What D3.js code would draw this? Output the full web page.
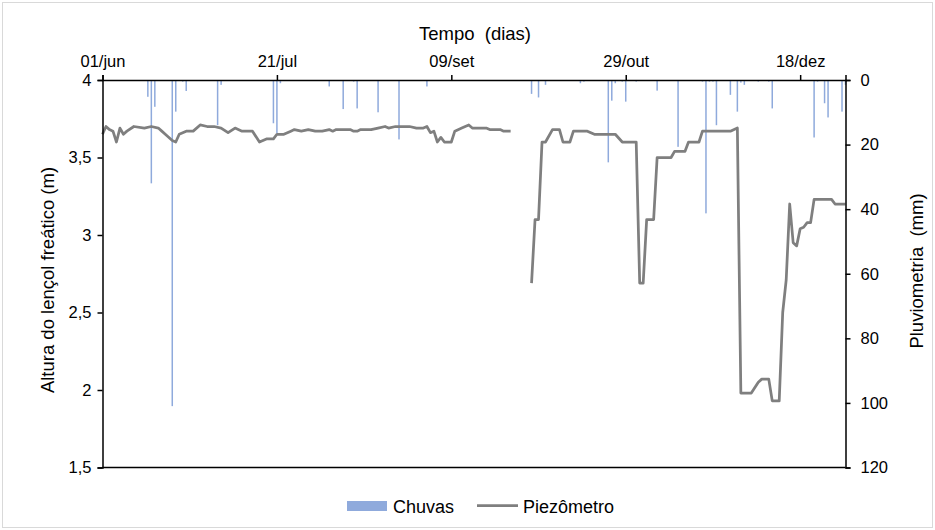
<!DOCTYPE html>
<html>
<head>
<meta charset="utf-8">
<script src="https://cdn.jsdelivr.net/npm/d3@7"></script>
<style>
  body { margin: 0; background: #fff; }
  svg text { font-family: "Liberation Sans", Arial, sans-serif; fill: #000; }
</style>
</head>
<body>
<div id="chart"></div>
<script>
// days counted from 01/jun
const rainDays = [13, 14, 15, 20, 21, 23, 24, 33, 34, 49, 50, 51, 65, 69, 72, 73, 79, 85, 93,
    123, 125, 127, 137, 138, 145, 146, 147, 149, 150, 153, 159, 165, 172, 173, 174, 175, 176,
    180, 182, 183, 184, 188, 191, 192, 204, 205, 207, 208, 212, 213];
const rainMm = [5.2, 32, 8.3, 101, 9.8, 0.5, 3.4, 14, 1.5, 13.4, 16.5, 1, 2, 9, 0.5, 8.8, 10, 18.4, 2,
    4.3, 5.4, 1.5, 1, 0.5, 25.5, 6.4, 1, 0.5, 6.7, 0.5, 3.3, 20.7, 0.5, 41.3, 0.5, 0.5, 14,
    4.6, 9.8, 0.8, 1.5, 0.5, 0.5, 8.8, 17.8, 0.5, 7.2, 11.6, 9.8, 1.5];

const piezoDays = [0, 1, 2, 3, 4, 5, 6, 7, 9, 12, 14, 16, 17, 18, 20, 21, 22, 24, 26, 28, 30, 32, 34, 36,
    38, 40, 43, 45, 47, 49, 50, 52, 54, 55, 57, 59, 61, 63, 65, 66, 67, 71, 72, 73, 74, 77, 79, 81,
    82, 84, 88, 90, 92, 93, 94, 95, 96, 97, 98, 100, 101, 103, 104, 105, 106, 110, 111, 114, 115, 117,
    120,
    123, 124, 125, 126, 127, 129, 131, 132, 134, 135, 139, 141, 147, 149, 153, 154, 155, 156, 158,
    159, 163, 164, 167, 168, 171, 172, 180, 182, 183, 186, 188, 189, 191, 192, 194, 195, 196, 197,
    198, 199, 200, 201, 202, 203, 204, 209, 210, 213];
const piezoLevel = [3.65, 3.70, 3.68, 3.67, 3.60, 3.69, 3.65, 3.67, 3.70, 3.69, 3.70, 3.69, 3.67, 3.65,
    3.61, 3.60, 3.65, 3.67, 3.67, 3.71, 3.70, 3.70, 3.69, 3.66, 3.69, 3.67, 3.67, 3.60, 3.62, 3.62,
    3.65, 3.65, 3.67, 3.68, 3.67, 3.68, 3.67, 3.67, 3.68, 3.67, 3.68, 3.68, 3.67, 3.67, 3.68, 3.68,
    3.69, 3.70, 3.69, 3.70, 3.70, 3.69, 3.69, 3.70, 3.66, 3.67, 3.60, 3.63, 3.60, 3.60, 3.67, 3.69,
    3.70, 3.71, 3.69, 3.69, 3.68, 3.68, 3.67, 3.67,
    null,
    2.69, 3.10, 3.10, 3.60, 3.60, 3.68, 3.68, 3.60, 3.60, 3.67, 3.67, 3.65, 3.65, 3.60, 3.60, 2.69,
    2.69, 3.10, 3.10, 3.50, 3.50, 3.54, 3.54, 3.60, 3.60, 3.67, 3.67, 3.69, 1.98, 1.98, 2.05, 2.07,
    2.07, 1.93, 1.93, 2.50, 2.71, 3.20, 2.95, 2.93, 3.04, 3.05, 3.08, 3.08, 3.23, 3.23, 3.20, 3.20];

const tickDays = [0, 50, 100, 150, 200];
const levelTicks = [1.5, 2, 2.5, 3, 3.5, 4];
const rainTicks = [0, 20, 40, 60, 80, 100, 120];

const width = 935, height = 530;
const margin = { top: 80, right: 89.5, bottom: 62.5, left: 102.5 };

const ptBR = d3.timeFormatLocale({
    dateTime: "%d/%m/%Y %H:%M", date: "%d/%m/%Y", time: "%H:%M:%S",
    periods: ["AM", "PM"],
    days: ["domingo", "segunda", "terça", "quarta", "quinta", "sexta", "sábado"],
    shortDays: ["dom", "seg", "ter", "qua", "qui", "sex", "sáb"],
    months: ["janeiro", "fevereiro", "março", "abril", "maio", "junho", "julho", "agosto", "setembro", "outubro", "novembro", "dezembro"],
    shortMonths: ["jan", "fev", "mar", "abr", "mai", "jun", "jul", "ago", "set", "out", "nov", "dez"]
});
const fmtDate = ptBR.format("%d/%b");
const fmtNum = v => String(v).replace(".", ",");

const start = new Date(2019, 5, 1);
const day = d => d3.timeDay.offset(start, d);

const svg = d3.select("#chart").append("svg")
    .attr("width", width)
    .attr("height", height);

svg.append("rect")
    .attr("x", 2.5).attr("y", 2.5)
    .attr("width", width - 5).attr("height", height - 5)
    .attr("fill", "#fff")
    .attr("stroke", "#d9d9d9");

const x = d3.scaleTime()
    .domain([start, day(213)])
    .range([margin.left, width - margin.right]);
const yLeft = d3.scaleLinear()
    .domain([1.5, 4])
    .range([height - margin.bottom, margin.top]);
const yRight = d3.scaleLinear()
    .domain([0, 120])
    .range([margin.top, height - margin.bottom]);

// rain bars hanging from the top
svg.append("g")
    .selectAll("rect")
    .data(rainDays.map((d, i) => ({ date: day(d), mm: rainMm[i] })))
    .enter()
    .append("rect")
    .attr("x", d => x(d.date) - 0.75)
    .attr("y", yRight(0))
    .attr("width", 1.5)
    .attr("height", d => yRight(d.mm) - yRight(0))
    .attr("fill", "#8faadc");

// piezometer line
const piezo = piezoDays.map((d, i) => ({ date: day(d), v: piezoLevel[i] }));
const line = d3.line()
    .defined(d => d.v != null)
    .x(d => x(d.date))
    .y(d => yLeft(d.v));
svg.append("path")
    .datum(piezo)
    .attr("d", line)
    .attr("fill", "none")
    .attr("stroke", "#7f7f7f")
    .attr("stroke-width", 2.75)
    .attr("stroke-linejoin", "round");

// axes
const styleAxis = g => {
    g.selectAll(".domain").attr("stroke", "#000").attr("stroke-width", 1.5);
    g.selectAll(".tick line").attr("stroke", "#000").attr("stroke-width", 1.5);
    g.selectAll(".tick text").style("font-size", "16.5px");
};

svg.append("g")
    .attr("transform", `translate(0,${margin.top})`)
    .call(d3.axisTop(x).tickValues(tickDays.map(day)).tickFormat(fmtDate).tickSizeOuter(0).tickSize(5).tickPadding(8))
    .call(styleAxis);

svg.append("line")
    .attr("x1", margin.left).attr("x2", width - margin.right)
    .attr("y1", height - margin.bottom).attr("y2", height - margin.bottom)
    .attr("stroke", "#000").attr("stroke-width", 1.5);

svg.append("g")
    .attr("transform", `translate(${margin.left},0)`)
    .call(d3.axisLeft(yLeft).tickValues(levelTicks).tickFormat(fmtNum).tickSizeOuter(0).tickSize(5).tickPadding(6))
    .call(styleAxis);

svg.append("g")
    .attr("transform", `translate(${width - margin.right},0)`)
    .call(d3.axisRight(yRight).tickValues(rainTicks).tickSizeOuter(0).tickSize(5).tickPadding(10))
    .call(styleAxis);

svg.selectAll(".tick text").attr("fill", "#000");

// titles
svg.append("text")
    .attr("x", 475)
    .attr("y", 40)
    .attr("text-anchor", "middle")
    .style("font-size", "18.5px")
    .style("white-space", "pre")
    .text("Tempo  (dias)");

svg.append("text")
    .attr("transform", `translate(54,280) rotate(-90)`)
    .attr("text-anchor", "middle")
    .style("font-size", "18.5px")
    .text("Altura do lençol freático (m)");

svg.append("text")
    .attr("transform", `translate(923,271) rotate(-90)`)
    .attr("text-anchor", "middle")
    .style("font-size", "18.5px")
    .style("white-space", "pre")
    .text("Pluviometria  (mm)");

// legend
const legend = svg.append("g");
legend.append("rect")
    .attr("x", 347).attr("y", 501)
    .attr("width", 40).attr("height", 10)
    .attr("fill", "#8faadc");
legend.append("text")
    .attr("x", 393).attr("y", 512.5)
    .style("font-size", "18px")
    .text("Chuvas");
legend.append("line")
    .attr("x1", 477).attr("x2", 518)
    .attr("y1", 505.5).attr("y2", 505.5)
    .attr("stroke", "#7f7f7f")
    .attr("stroke-width", 2.75);
legend.append("text")
    .attr("x", 523).attr("y", 512.5)
    .style("font-size", "18px")
    .text("Piezômetro");
</script>
</body>
</html>
